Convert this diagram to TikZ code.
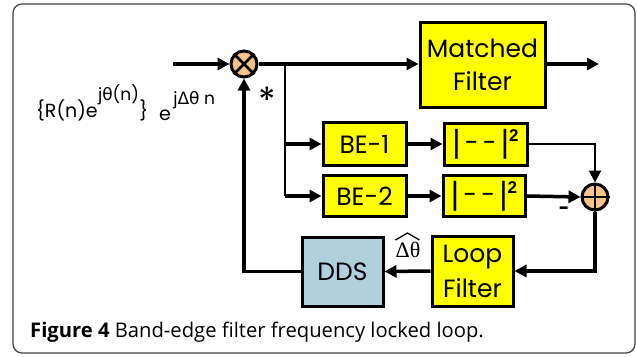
\documentclass[tikz,border=0pt]{standalone}
\usepackage{fontspec}
\setmainfont{Poppins}
\newfontfamily\capfont{Open Sans}
\newfontfamily\grk{DejaVu Sans}
\newfontfamily\arb{Liberation Sans}
\newfontfamily\srf{Liberation Serif}
\usetikzlibrary{arrows.meta}
\definecolor{yel}{HTML}{FFFF00}
\definecolor{peach}{HTML}{F9C38C}
\definecolor{ddsblue}{HTML}{B0D0DC}
\newcommand{\sqtext}{{\arb\fontsize{32}{32}\selectfont\raisebox{-1pt}{|}}\,-\,-\,{\arb\fontsize{32}{32}\selectfont\raisebox{-1pt}{|}}\raisebox{10pt}{\arb\bfseries\fontsize{17}{17}\selectfont 2}}
\tikzset{
  blk/.style={draw=black, line width=3pt, fill=yel, inner sep=0pt, align=center,
    font=\fontsize{25}{33}\selectfont},
  op/.style={circle, draw=black, line width=3pt, fill=peach, minimum size=26pt, inner sep=0pt},
  arr/.style={line width=3.5pt, -{Triangle[length=12pt,width=12pt]}},
  wire/.style={line width=3.5pt},
  thinwire/.style={line width=2pt},
  lbl/.style={inner sep=0pt, anchor=base west, font=\fontsize{19}{19}\selectfont},
  sup/.style={inner sep=0pt, anchor=base west, font=\fontsize{17}{17}\selectfont}
}
\begin{document}
\begin{tikzpicture}[x=1pt,y=-1pt]
\useasboundingbox (0,0) rectangle (637,356);
\draw[line width=1.2pt, draw=black!75, rounded corners=9pt] (13,4) rectangle (635,353);

% blocks
\node[blk, minimum width=125pt, minimum height=85pt] (mf) at (482.5,64.5) {Matched\\Filter};
\node[blk, minimum width=83pt, minimum height=43pt] (be1) at (364.5,144) {BE-1};
\node[blk, minimum width=83pt, minimum height=41pt] (be2) at (364.5,196) {BE-2};
\node[blk, minimum width=83pt, minimum height=42pt] (sq1) at (485.5,144) {\sqtext};
\node[blk, minimum width=82pt, minimum height=41pt] (sq2) at (484,196) {\sqtext};
\node[blk, minimum width=81pt, minimum height=70pt, font=\fontsize{25}{35}\selectfont] (lf) at (472.5,271) {Loop\\Filter};
\node[blk, fill=ddsblue, minimum width=81pt, minimum height=69pt] (dds) at (342.5,271.5) {DDS};

% operators
\node[op] (mult) at (244,64) {};
\draw[line width=2.5pt] (mult.45) -- (mult.225) (mult.135) -- (mult.315);
\node[op] (add) at (595,197) {};
\draw[line width=2.5pt] (add.north) -- (add.south) (add.west) -- (add.east);

% connectors
\coordinate (in) at (173,64);
\coordinate (out) at (599,64);
\coordinate (br) at (285,64);
\draw[arr] (in) -- (mult.west);
\draw[arr] (mult.east) -- (mult.east -| mf.west);
\draw[arr] (mf.east |- out) -- (out);
\draw[thinwire] (br) -- (br |- be2);
\draw[arr] (br |- be1) -- (be1.west);
\draw[arr] (br |- be2) -- (be2.west);
\draw[arr] (be1.east) -- (sq1.west);
\draw[arr] (be2.east) -- (sq2.west);
\draw[thinwire, -{Triangle[length=12pt,width=12pt]}] (sq1.east) -| (add.north);
\draw[arr] (sq2.east) -- (add.west);
\draw[arr] (add.south) |- (lf.east);
\draw[arr] (lf.west) -- (dds.east);
\draw[arr] (dds.west) -| (mult.south);

% labels
\node[inner sep=0pt, font=\fontsize{36}{36}\selectfont] (star) at (267,100) {*};
\node[inner sep=0pt, font=\bfseries\fontsize{18}{18}\selectfont] (minus) at (564,211) {-};
\node[inner sep=0pt, font=\srf\fontsize{22}{22}\selectfont] (dth) at (408,250) {Δθ};
\draw[line width=1.3pt] (dth.north west) ++(0,-2) -- ++(12,-7) -- ++(12,7);

\node[lbl] (t1) at (36,117) {\{R(n)e};
\node[sup] (t2) at (t1.base east) [yshift=17pt] {j{\grk θ}(n)};
\node[lbl] (t3) at (t2.base east) [yshift=-17pt] {\}};
\node[lbl] (t4) at (159,120) {e};
\node[sup] (t5) at (t4.base east) [yshift=16pt, xshift=2pt] {j{\grk Δθ} n};

\node[inner sep=0pt, anchor=base west, font=\capfont\fontsize{20.2}{20.2}\selectfont] (cap) at (30,337)
  {\textbf{Figure 4} Band-edge filter frequency locked loop.};
\end{tikzpicture}
\end{document}
